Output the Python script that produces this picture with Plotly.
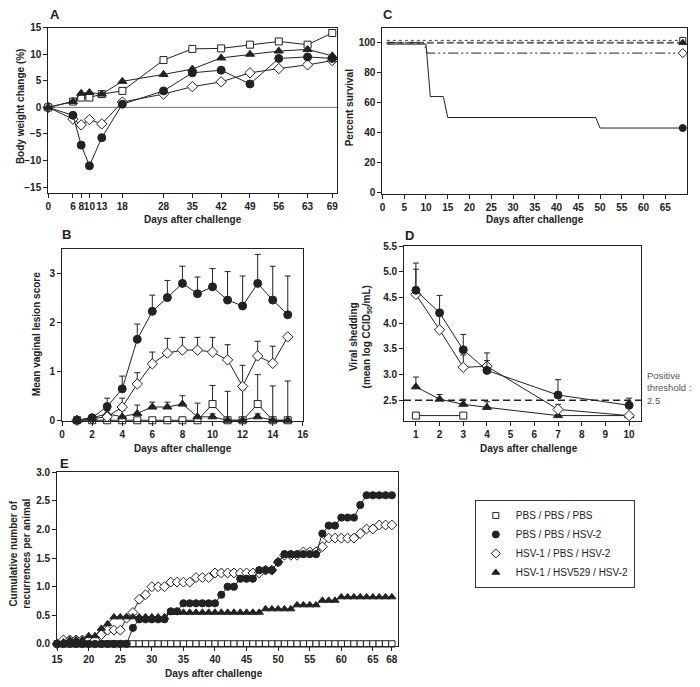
import plotly.graph_objects as go

W, H = 700, 687
FONT = "Arial, Liberation Sans, Helvetica, sans-serif"
INK = "#222222"

GROUPS = ["PBS / PBS / PBS", "PBS / PBS / HSV-2", "HSV-1 / PBS / HSV-2", "HSV-1 / HSV529 / HSV-2"]

# ---------------- Panel A: body weight change ----------------
A_days = [0, 6, 8, 10, 13, 18, 28, 35, 42, 49, 56, 63, 69]
A_pbs = [0, 1.1, 1.85, 1.85, 2.5, 3.1, 8.9, 11.0, 11.1, 11.8, 12.4, 11.8, 14.0]
A_hsv2 = [0, -1.5, -7.1, -11.0, -5.7, 0.6, 3.1, 6.5, 7.0, 4.4, 9.2, 9.5, 9.2]
A_hsv1 = [0, -2.2, -3.3, -2.3, -3.1, 1.0, 2.5, 3.9, 4.8, 6.5, 7.3, 8.0, 8.8]
A_529 = [0, 1.1, 2.65, 2.8, 2.5, 4.9, 6.2, 7.2, 9.3, 10.0, 10.6, 10.9, 9.7]
A_xticks = [0, 6, 8, 10, 13, 18, 28, 35, 42, 49, 56, 63, 69]
A_yticks = [-15, -10, -5, 0, 5, 10, 15]

# ---------------- Panel C: survival ----------------
C_pbs_x = [1, 69]
C_pbs_y = [101.5, 101.5]
C_hsv2_x = [1, 10, 11, 14, 15, 49, 50, 69]
C_hsv2_y = [99, 99, 64, 64, 50, 50, 43, 43]
C_hsv1_x = [1, 9.5, 10.3, 69]
C_hsv1_y = [100, 100, 93, 93]
C_529_x = [1, 69]
C_529_y = [100, 100]
C_xticks = [0, 5, 10, 15, 20, 25, 30, 35, 40, 45, 50, 55, 60, 65]
C_yticks = [0, 20, 40, 60, 80, 100]

# ---------------- Panel B: lesion score ----------------
B_days = [1, 2, 3, 4, 5, 6, 7, 8, 9, 10, 11, 12, 13, 14, 15]
B_pbs = [0, 0, 0, 0, 0, 0, 0, 0, 0, 0.33, 0, 0, 0.33, 0, 0]
B_pbs_err = [0, 0, 0, 0, 0, 0, 0, 0, 0, 0.38, 0.59, 0.62, 0.6, 0.7, 0.8]
B_hsv2 = [0, 0.05, 0.28, 0.64, 1.65, 2.22, 2.5, 2.79, 2.58, 2.72, 2.45, 2.33, 2.79, 2.45, 2.15]
B_hsv2_err = [0, 0.05, 0.17, 0.26, 0.31, 0.33, 0.35, 0.35, 0.34, 0.37, 0.58, 0.61, 0.59, 0.69, 0.79]
B_hsv1 = [0, 0.03, 0.07, 0.27, 0.74, 1.15, 1.37, 1.43, 1.43, 1.39, 1.23, 0.69, 1.31, 1.16, 1.7]
B_hsv1_err = [0, 0.02, 0.03, 0.18, 0.23, 0.24, 0.3, 0.26, 0.26, 0.3, 0.31, 0.43, 0.3, 0.35, 0]
B_529 = [0, 0.05, 0.13, 0.07, 0.14, 0.27, 0.27, 0.33, 0.07, 0.07, 0, 0, 0.07, 0, 0]
B_529_err = [0, 0.05, 0.07, 0.13, 0.17, 0.1, 0.1, 0.17, 0.28, 0.06, 0, 0, 0.06, 0, 0]
B_xticks = [0, 2, 4, 6, 8, 10, 12, 14, 16]
B_yticks = [0, 1, 2, 3]

# ---------------- Panel D: viral shedding ----------------
D_days = [1, 2, 3, 4, 7, 10]
D_pbs_days = [1, 3]
D_pbs = [2.2, 2.2]
D_hsv2 = [4.64, 4.2, 3.48, 3.08, 2.6, 2.4]
D_hsv2_err = [0.53, 0.34, 0.3, 0.34, 0.3, 0.14]
D_hsv1 = [4.56, 3.87, 3.14, 3.16, 2.32, 2.2]
D_hsv1_err = [0.49, 0.3, 0.24, 0.11, 0.1, 0]
D_529 = [2.76, 2.52, 2.42, 2.36, 2.2, 2.2]
D_529_err = [0.19, 0.09, 0.1, 0.11, 0, 0]
D_threshold = 2.5
D_xticks = [1, 2, 3, 4, 5, 6, 7, 8, 9, 10]
D_yticks = [2.5, 3.0, 3.5, 4.0, 4.5, 5.0, 5.5]

# ---------------- Panel E: cumulative recurrences ----------------
E_days = [15, 16, 17, 18, 19, 20, 21, 22, 23, 24, 25, 26, 27, 28, 29, 30, 31, 32, 33, 34,
          35, 36, 37, 38, 39, 40, 41, 42, 43, 44, 45, 46, 47, 48, 49, 50, 51, 52, 53, 54,
          55, 56, 57, 58, 59, 60, 61, 62, 63, 64, 65, 66, 67, 68]
E_pbs = [0, 0, 0, 0, 0, 0, 0, 0, 0, 0, 0, 0, 0, 0, 0, 0, 0, 0, 0, 0,
         0, 0, 0, 0, 0, 0, 0, 0, 0, 0, 0, 0, 0, 0, 0, 0, 0, 0, 0, 0,
         0, 0, 0, 0, 0, 0, 0, 0, 0, 0, 0, 0, 0, 0]
E_hsv2 = [0, 0, 0, 0, 0, 0, 0, 0, 0, 0, 0, 0, 0.28, 0.43, 0.43, 0.43, 0.43, 0.43, 0.57, 0.57,
          0.71, 0.71, 0.71, 0.71, 0.71, 0.71, 0.86, 1.0, 1.0, 1.14, 1.14, 1.14, 1.29, 1.29, 1.29, 1.43, 1.57, 1.57, 1.57, 1.57,
          1.57, 1.57, 1.93, 2.07, 2.07, 2.21, 2.21, 2.21, 2.43, 2.6, 2.6, 2.6, 2.6, 2.6]
E_hsv1 = [0, 0.07, 0.07, 0.07, 0.07, 0.07, 0.07, 0.16, 0.24, 0.24, 0.24, 0.45, 0.55, 0.78, 0.86, 1.0, 1.0, 1.0, 1.08, 1.08,
          1.08, 1.08, 1.16, 1.16, 1.16, 1.24, 1.24, 1.24, 1.24, 1.24, 1.24, 1.24, 1.24, 1.29, 1.29, 1.43, 1.55, 1.55, 1.55, 1.61,
          1.61, 1.61, 1.7, 1.85, 1.85, 1.85, 1.85, 1.85, 1.93, 2.01, 2.01, 2.08, 2.08, 2.08]
E_529 = [0, 0.03, 0.07, 0.07, 0.07, 0.14, 0.14, 0.27, 0.35, 0.47, 0.47, 0.47, 0.47, 0.47, 0.47, 0.47, 0.47, 0.47, 0.55, 0.55,
         0.55, 0.55, 0.55, 0.55, 0.55, 0.55, 0.55, 0.55, 0.55, 0.55, 0.55, 0.55, 0.55, 0.61, 0.61, 0.61, 0.61, 0.61, 0.68, 0.68,
         0.68, 0.68, 0.76, 0.76, 0.76, 0.82, 0.82, 0.82, 0.82, 0.82, 0.82, 0.82, 0.82, 0.82]
E_xticks = [15, 20, 25, 30, 35, 40, 45, 50, 55, 60, 65, 68]
E_yticks = [0.0, 0.5, 1.0, 1.5, 2.0, 2.5, 3.0]

# ---------------- styles ----------------
STY = {
    GROUPS[0]: dict(symbol="square", fill="white", size=7),
    GROUPS[1]: dict(symbol="circle", fill=INK, size=8),
    GROUPS[2]: dict(symbol="diamond", fill="white", size=8),
    GROUPS[3]: dict(symbol="triangle-up", fill=INK, size=8),
}


def px_x(p):
    return p / W


def px_y(p):
    return 1 - p / H


def axname(i):
    return ("x", "y") if i == 1 else (f"x{i}", f"y{i}")


fig = go.Figure()


def series(ax, x, y, group, err=None, size_scale=1.0):
    xa, ya = axname(ax)
    s = STY[group]
    kw = {}
    if err is not None:
        kw["error_y"] = dict(type="data", array=err, arrayminus=[0] * len(err), symmetric=False,
                             color=INK, thickness=1, width=3)
    fig.add_trace(go.Scatter(
        x=x, y=y, xaxis=xa, yaxis=ya, mode="lines+markers", name=group, showlegend=False,
        line=dict(color=INK, width=1),
        marker=dict(symbol=s["symbol"], color=s["fill"], size=s["size"] * size_scale,
                    line=dict(color=INK, width=1)),
        cliponaxis=False, **kw))


# Panel A (axis 1)
series(1, A_days, A_hsv1, GROUPS[2])
series(1, A_days, A_hsv2, GROUPS[1])
series(1, A_days, A_pbs, GROUPS[0])
series(1, A_days, A_529, GROUPS[3])

# Panel C (axis 2)
C_lines = [
    (C_pbs_x, C_pbs_y, GROUPS[0], dict(color="#444444", width=1, dash="dot")),
    (C_529_x, C_529_y, GROUPS[3], dict(color="#666666", width=2, dash="7px,3px")),
    (C_hsv1_x, C_hsv1_y, GROUPS[2], dict(color=INK, width=1, dash="10px,3px,2px,3px,2px,3px")),
    (C_hsv2_x, C_hsv2_y, GROUPS[1], dict(color=INK, width=1)),
]
for cx, cy, g, ln in C_lines:
    fig.add_trace(go.Scatter(x=cx, y=cy, xaxis="x2", yaxis="y2", mode="lines", line=ln,
                             showlegend=False, cliponaxis=False))
for cx, cy, g, ln in C_lines:
    s = STY[g]
    fig.add_trace(go.Scatter(x=[cx[-1]], y=[cy[-1]], xaxis="x2", yaxis="y2", mode="markers",
                             marker=dict(symbol=s["symbol"], color=s["fill"], size=s["size"] - 1,
                                         line=dict(color=INK, width=1)),
                             showlegend=False, cliponaxis=False))

# Panel B (axis 3)
series(3, B_days, B_pbs, GROUPS[0], B_pbs_err)
series(3, B_days, B_529, GROUPS[3], B_529_err)
series(3, B_days, B_hsv1, GROUPS[2], B_hsv1_err)
series(3, B_days, B_hsv2, GROUPS[1], B_hsv2_err)

# Panel D (axis 4)
series(4, D_pbs_days, D_pbs, GROUPS[0])
series(4, D_days, D_529, GROUPS[3], D_529_err)
series(4, D_days, D_hsv1, GROUPS[2], D_hsv1_err)
series(4, D_days, D_hsv2, GROUPS[1], D_hsv2_err)

# Panel E (axis 5)
series(5, E_days, E_pbs, GROUPS[0], size_scale=0.9)
series(5, E_days, E_hsv1, GROUPS[2], size_scale=0.95)
series(5, E_days, E_529, GROUPS[3], size_scale=0.9)
series(5, E_days, E_hsv2, GROUPS[1], size_scale=0.9)

# Legend entries
for g in GROUPS:
    s = STY[g]
    fig.add_trace(go.Scatter(x=[None], y=[None], mode="markers", name=g, showlegend=True,
                             marker=dict(symbol=s["symbol"], color=s["fill"], size=s["size"] - 1,
                                         line=dict(color=INK, width=1))))


def common_axis(rng, ticks, anchor, fmt=None):
    d = dict(range=rng, anchor=anchor, tickmode="array", tickvals=ticks, showline=True,
             linecolor=INK, linewidth=1, mirror=True, ticks="outside", ticklen=4,
             tickcolor=INK, showgrid=False, zeroline=False, tickangle=0,
             tickfont=dict(family=FONT, size=10, color=INK, weight="bold"))
    if fmt:
        d["tickformat"] = fmt
    return d


def xax(dom, rng, ticks, anchor, fmt=None):
    d = common_axis(rng, ticks, anchor, fmt)
    d["domain"] = [px_x(dom[0]), px_x(dom[1])]
    return d


def yax(dom, rng, ticks, anchor, fmt=None):
    d = common_axis(rng, ticks, anchor, fmt)
    d["domain"] = [px_y(dom[1]), px_y(dom[0])]
    return d


layout = dict(
    width=W, height=H, margin=dict(l=0, r=0, t=0, b=0),
    paper_bgcolor="white", plot_bgcolor="white",
    font=dict(family=FONT, color=INK),
    xaxis=xax((43, 337), [0, 70.2], A_xticks, "y"),
    yaxis=yax((22, 190), [-16.1, 15], A_yticks, "x"),
    xaxis2=xax((383, 693), [0, 70], C_xticks, "y2"),
    yaxis2=yax((22, 191), [-1, 110], C_yticks, "x2"),
    xaxis3=xax((57, 302), [0, 16], B_xticks, "y3"),
    yaxis3=yax((247, 422), [-0.02, 3.49], B_yticks, "x3"),
    xaxis4=xax((405, 646), [0.5, 10.5], D_xticks, "y4"),
    yaxis4=yax((244, 422), [2.09, 5.5], D_yticks, "x4", fmt=".1f"),
    xaxis5=xax((52, 399), [15, 69], E_xticks, "y5"),
    yaxis5=yax((474, 650), [-0.03, 3.0], E_yticks, "x5", fmt=".1f"),
    legend=dict(x=px_x(477), y=px_y(502), xanchor="left", yanchor="top",
                bordercolor="#333333", borderwidth=1, bgcolor="white",
                font=dict(family=FONT, size=10, color=INK), tracegroupgap=0,
                itemwidth=30),
    showlegend=True,
)
fig.update_layout(**layout)

# zero line in A and threshold in D
fig.add_shape(type="line", xref="x domain", yref="y", x0=0, x1=1, y0=0, y1=0,
              line=dict(color="#777777", width=1), layer="below")
fig.add_shape(type="line", xref="x4 domain", yref="y4", x0=0, x1=1, y0=D_threshold, y1=D_threshold,
              line=dict(color=INK, width=1.5, dash="7px,4px"), layer="below")


def ann(text, x, y, size=10, bold=True, angle=0, color=INK, xanchor="center", align="center"):
    fig.add_annotation(text=text, x=px_x(x), y=px_y(y), xref="paper", yref="paper",
                       showarrow=False, textangle=angle, xanchor=xanchor, yanchor="middle",
                       align=align,
                       font=dict(family=FONT, size=size, color=color, weight="bold" if bold else "normal"))


# panel letters
ann("A", 50, 9, size=13)
ann("C", 389, 9, size=13)
ann("B", 62, 232, size=13)
ann("D", 411, 233, size=13)
ann("E", 60, 465, size=13)

# axis titles
ann("Days after challenge", 190, 217)
ann("Body weight change (%)", 15, 102, angle=-90)
ann("Days after challenge", 538, 217)
ann("Percent survival", 349, 104, angle=-90)
ann("Days after challenge", 180, 450)
ann("Mean vaginal lesion score", 31, 333, angle=-90)
ann("Days after challenge", 532, 450)
ann("Viral shedding<br>(mean log CCID<sub>50</sub>/mL)", 361, 336, angle=-90)
ann("Days after challenge", 212, 678)
ann("Cumulative number of<br>recurrences per animal", 14, 557, angle=-90)
ann("Positive<br>threshold :<br>" + str(D_threshold), 650, 388, size=9.5, bold=False,
    color="#555555", xanchor="left", align="left")

fig.write_html("out.html", config={"displayModeBar": False},
               post_script="document.body.style.margin='0';document.body.style.overflow='hidden';")
